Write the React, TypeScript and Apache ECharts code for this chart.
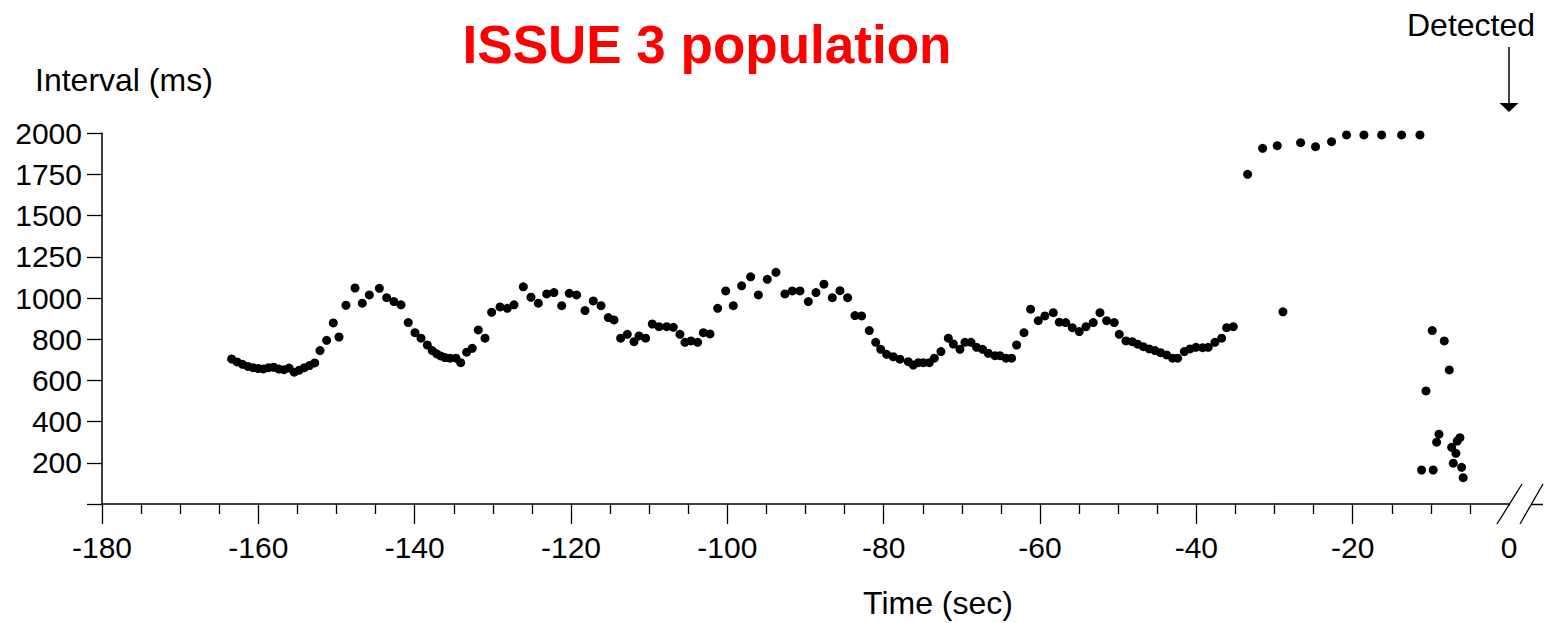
import React, { useEffect, useRef } from "react";
import * as echarts from "echarts";

const timeSec: number[] = [
  -163.41, -162.71, -162.02, -161.34, -160.67, -160.01, -159.35, -158.69, -158.03, -157.37,
  -156.72, -156.07, -155.41, -154.77, -154.12, -153.46, -152.79,
  -152.11, -151.26, -150.41, -149.68, -148.79, -147.63, -146.7, -145.8, -144.52, -143.58,
  -142.65, -141.75, -140.82, -139.96, -139.19, -138.38, -137.75, -137.18, -136.67, -136.12,
  -135.48, -134.71, -134.11, -133.35, -132.63, -131.86, -131.0, -130.15, -129.08, -128.15,
  -127.29, -126.1, -125.12, -124.18, -123.11, -122.18, -121.19, -120.22, -119.28, -118.21,
  -117.15, -116.16, -115.23, -114.5, -113.65, -112.8, -111.94, -111.3, -110.45, -109.6,
  -108.74, -107.76, -106.91, -106.06, -105.42, -104.65, -103.8, -103.07, -102.22, -101.24,
  -100.21, -99.24, -98.17, -97.02, -96.03, -94.89, -93.78, -92.63, -91.69, -90.71,
  -89.64, -88.66, -87.64, -86.57, -85.59, -84.61, -83.67, -82.82, -81.84, -81.02,
  -80.38, -79.62, -78.77, -77.91, -76.85, -76.21, -75.57, -74.93, -74.17, -73.52,
  -72.67, -71.73, -71.09, -70.24, -69.6, -68.83, -68.11, -67.34, -66.62, -65.76,
  -65.12, -64.35, -63.63, -62.99, -62.05, -61.2, -60.22, -59.37, -58.3, -57.53,
  -56.72, -55.87, -54.98, -54.12, -53.19, -52.33, -51.48, -50.5, -49.86, -49.0,
  -48.19, -47.51, -46.78, -46.02, -45.29, -44.57, -43.8, -43.03, -42.39, -41.54,
  -40.81, -40.05, -39.19, -38.47, -37.62, -36.76, -36.12, -35.27,
  -33.44, -31.52, -29.65, -28.92, -26.66, -24.75, -22.7, -20.78, -18.56, -16.29, -13.74, -11.39,
  -11.18, -10.62, -9.82, -9.7, -9.26, -8.96, -8.28, -7.64, -7.34, -7.13, -6.79, -6.62, -6.28, -6.06, -5.86,
];

const intervalMs: number[] = [
  704, 690, 678, 668, 662, 658, 656, 662, 664, 655,
  652, 660, 640, 650, 662, 672, 685,
  745, 795, 879, 811, 965, 1061, 975, 1019, 1059, 1002,
  983, 967, 881, 832, 805, 772, 745, 729, 719, 711,
  708, 708, 686, 737, 756, 845, 805, 931, 957, 950,
  967, 1068, 1005, 975, 1025, 1033, 963, 1029, 1019, 939,
  986, 963, 905, 894, 805, 824, 788, 816, 805, 874,
  861, 861, 858, 824, 785, 792, 785, 832, 826, 950,
  1043, 963, 1074, 1129, 1019, 1114, 1156, 1025, 1043, 1043,
  983, 1033, 1084, 1002, 1045, 1002, 915, 913, 842, 785,
  751, 727, 715, 703, 691, 675, 686, 686, 686, 708,
  740, 805, 777, 751, 785, 785, 761, 751, 732, 720,
  720, 708, 708, 772, 832, 946, 890, 913, 929, 883,
  881, 856, 837, 861, 881, 929, 890, 881, 824, 792,
  788, 776, 764, 753, 745, 735, 724, 708, 708, 740,
  753, 761, 759, 761, 785, 805, 856, 861,
  1751, 1909, 1925, 933, 1943, 1919, 1949, 1990, 1990, 1990, 1990, 1990,
  165, 549, 842, 165, 300, 339, 792, 651, 275, 198, 246, 306, 322, 178, 128,
];

// Y axis is piecewise: 200 ms per step up to 1000, then 250 ms per step
const yTickLabels: number[] = [200, 400, 600, 800, 1000, 1250, 1500, 1750, 2000];

function toAxis(v: number): number {
  return v <= 1000 ? v / 200 : 5 + (v - 1000) / 250;
}

export default function App() {
  const ref = useRef<HTMLDivElement>(null);
  useEffect(() => {
    document.body.style.margin = "0";
    const chart = echarts.init(ref.current!, null, { renderer: "svg" });
    const font = "'Liberation Sans', Arial, Helvetica, sans-serif";
    const black = "#000";
    chart.setOption({
      animation: false,
      backgroundColor: "#fff",
      grid: { left: 102, right: 41, top: 133.3, bottom: 119 },
      xAxis: {
        type: "value",
        min: -180,
        max: 0,
        interval: 20,
        axisLine: { onZero: false, lineStyle: { color: black, width: 1.5 } },
        axisTick: { length: 20, lineStyle: { color: black, width: 1.3 } },
        minorTick: { show: true, splitNumber: 4, length: 10, lineStyle: { color: black, width: 1.3 } },
        axisLabel: { fontSize: 30, color: black, fontFamily: font, margin: 28, showMinLabel: true, showMaxLabel: true },
        splitLine: { show: false },
        minorSplitLine: { show: false },
      },
      yAxis: {
        type: "value",
        min: 0,
        max: 9,
        interval: 1,
        axisLine: { show: true, onZero: false, lineStyle: { color: black, width: 1.5 } },
        axisTick: { show: true, length: 15, lineStyle: { color: black, width: 1.3 } },
        axisLabel: {
          fontSize: 30,
          color: black,
          fontFamily: font,
          margin: 20,
          formatter: (v: number) => (v === 0 ? "" : String(yTickLabels[Math.round(v) - 1])),
        },
        splitLine: { show: false },
      },
      series: [
        {
          type: "scatter",
          data: timeSec.map((t, i) => [t, toAxis(intervalMs[i])]),
          symbol: "circle",
          symbolSize: 9,
          itemStyle: { color: black, opacity: 1 },
        },
      ],
      graphic: [
        { type: "rect", shape: { x: 1507.5, y: 505.5, width: 8, height: 25 }, style: { fill: "#fff" }, z: 100 },
        { type: "line", shape: { x1: 1497, y1: 524, x2: 1522, y2: 484 }, style: { stroke: black, lineWidth: 1.3 }, z: 101 },
        { type: "line", shape: { x1: 1520, y1: 524, x2: 1543, y2: 484 }, style: { stroke: black, lineWidth: 1.3 }, z: 101 },
        { type: "line", shape: { x1: 1532, y1: 504.5, x2: 1543, y2: 504.5 }, style: { stroke: black, lineWidth: 1.5 }, z: 101 },
        { type: "line", shape: { x1: 1509, y1: 47, x2: 1509, y2: 104 }, style: { stroke: black, lineWidth: 1.5 }, z: 101 },
        { type: "polygon", shape: { points: [[1499.5, 103], [1518.5, 103], [1509, 112]] }, style: { fill: black }, z: 101 },
        {
          type: "text", x: 707, y: 44, z: 101,
          style: { text: "ISSUE 3 population", fill: "#ff0000", font: `bold 53px ${font}`, textAlign: "center", textVerticalAlign: "middle" },
        },
        {
          type: "text", x: 35, y: 80, z: 101,
          style: { text: "Interval (ms)", fill: black, font: `32px ${font}`, textAlign: "left", textVerticalAlign: "middle" },
        },
        {
          type: "text", x: 1471, y: 25, z: 101,
          style: { text: "Detected", fill: black, font: `32px ${font}`, textAlign: "center", textVerticalAlign: "middle" },
        },
        {
          type: "text", x: 938, y: 603, z: 101,
          style: { text: "Time (sec)", fill: black, font: `32px ${font}`, textAlign: "center", textVerticalAlign: "middle" },
        },
      ],
    });
    return () => chart.dispose();
  }, []);
  return <div ref={ref} style={{ position: "fixed", left: 0, top: 0, width: 1550, height: 623 }} />;
}
